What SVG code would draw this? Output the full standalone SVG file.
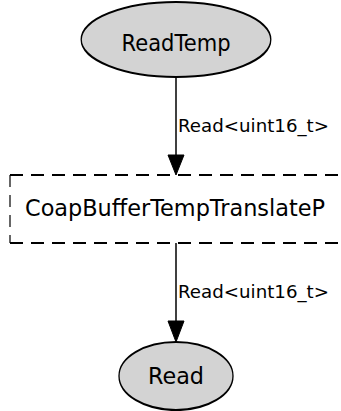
<svg xmlns="http://www.w3.org/2000/svg" width="341" height="411" viewBox="0 0 341 411">
<style>
.node ellipse{fill:#d3d3d3;stroke:#000;stroke-width:2.2}
.lbl{font-family:"DejaVu Sans","Liberation Sans",sans-serif;fill:#000}
.nt{font-size:23px;text-anchor:middle}
.et{font-size:18px}
.edge line{stroke:#000;stroke-width:1.5}
.edge polygon{fill:#000;stroke:#000;stroke-width:1}
</style>
<rect width="341" height="411" fill="#fff"/>
<g id="ReadTemp" class="node">
<ellipse transform="translate(176 39.5) scale(0.6 1)" cx="0" cy="0" rx="158" ry="37.5"/>
<text class="lbl nt" x="176" y="51" textLength="109" lengthAdjust="spacingAndGlyphs">ReadTemp</text>
</g>
<g id="CoapBufferTempTranslateP" class="node">
<path d="M10,175 H350 M10,243 H350" fill="none" stroke="#000" stroke-width="2" stroke-dasharray="13,8"/>
<path d="M10,175 V243" fill="none" stroke="#000" stroke-width="1.2" stroke-dasharray="12,8"/>
<text class="lbl nt" x="175" y="216" textLength="300" lengthAdjust="spacingAndGlyphs">CoapBufferTempTranslateP</text>
</g>
<g id="Read" class="node">
<ellipse transform="translate(176 376) scale(0.6 1)" cx="0" cy="0" rx="95" ry="34"/>
<text class="lbl nt" x="176" y="384" textLength="56" lengthAdjust="spacingAndGlyphs">Read</text>
</g>
<g id="edges" class="edge">
<line x1="176" y1="77" x2="176" y2="157"/>
<polygon points="168,155 184,155 176,175"/>
<text class="lbl et" x="178" y="132" textLength="151" lengthAdjust="spacingAndGlyphs">Read&lt;uint16_t&gt;</text>
<line x1="176" y1="243" x2="176" y2="323"/>
<polygon points="168,321 184,321 176,342"/>
<text class="lbl et" x="178" y="298" textLength="151" lengthAdjust="spacingAndGlyphs">Read&lt;uint16_t&gt;</text>
</g>
</svg>
